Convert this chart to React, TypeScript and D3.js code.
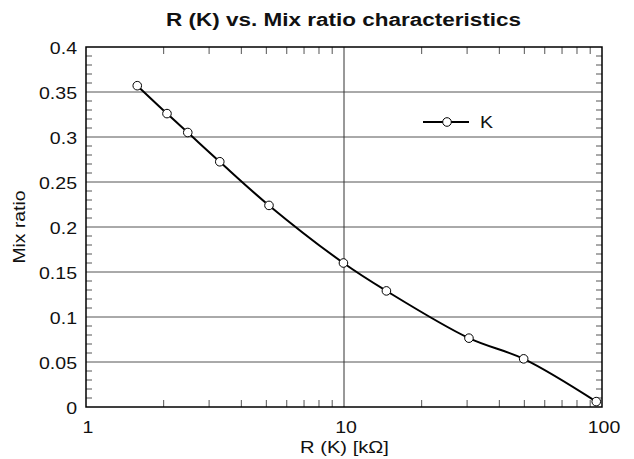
import React, { useEffect, useRef } from "react";
import * as d3 from "d3";

const resistance = [1.58, 2.06, 2.48, 3.3, 5.12, 9.95, 14.6, 30.5, 49.7, 95];
const mixRatio = [0.357, 0.326, 0.305, 0.2725, 0.224, 0.16, 0.129, 0.0765, 0.0535, 0.006];
const xTicks = [1, 10, 100];
const yTicks = [0, 0.05, 0.1, 0.15, 0.2, 0.25, 0.3, 0.35, 0.4];
const seriesName = "K";

const W = 634;
const H = 459;
const margin = { top: 47, right: 32, bottom: 52, left: 86 };
const font = "'Liberation Sans', Arial, sans-serif";
// the source renders text a bit wider than Arial
const stretch = 1.15;

export default function App() {
  const ref = useRef<SVGSVGElement>(null);

  useEffect(() => {
    const svg = d3.select(ref.current);
    svg.selectAll("*").remove();

    const x = d3.scaleLog().domain([1, 100]).range([margin.left, W - margin.right]);
    const y = d3.scaleLinear().domain([0, 0.4]).range([H - margin.bottom, margin.top]);
    const [x0, x1] = x.range();
    const [yb, yt] = y.range();

    svg.append("rect").attr("width", W).attr("height", H).attr("fill", "#fff");

    // horizontal grid lines
    svg.append("g")
      .selectAll("line")
      .data(yTicks.slice(1, -1))
      .join("line")
      .attr("x1", x0).attr("x2", x1)
      .attr("y1", d => y(d)).attr("y2", d => y(d))
      .attr("stroke", "#555").attr("stroke-width", 1);

    // vertical grid line at 10
    svg.append("line")
      .attr("x1", x(10)).attr("x2", x(10))
      .attr("y1", yt).attr("y2", yb)
      .attr("stroke", "#333").attr("stroke-width", 1);

    // minor y ticks
    const yMinor = d3.range(0, 41).map(i => i / 100).filter(v => Math.round(v * 100) % 5 !== 0);
    const minorG = svg.append("g").attr("stroke", "#555").attr("stroke-width", 1);
    yMinor.forEach(v => {
      minorG.append("line").attr("x1", x0).attr("x2", x0 + 6).attr("y1", y(v)).attr("y2", y(v));
      minorG.append("line").attr("x1", x1 - 6).attr("x2", x1).attr("y1", y(v)).attr("y2", y(v));
    });

    // minor x ticks
    const xMinor: number[] = [];
    [1, 10].forEach(dec => d3.range(2, 10).forEach(k => xMinor.push(dec * k)));
    xMinor.forEach(v => {
      minorG.append("line").attr("x1", x(v)).attr("x2", x(v)).attr("y1", yb).attr("y2", yb - 7);
      minorG.append("line").attr("x1", x(v)).attr("x2", x(v)).attr("y1", yt).attr("y2", yt + 7);
    });

    // frame
    svg.append("rect")
      .attr("x", x0).attr("y", yt)
      .attr("width", x1 - x0).attr("height", yb - yt)
      .attr("fill", "none").attr("stroke", "#000").attr("stroke-width", 1.5);

    // y tick labels
    svg.append("g")
      .selectAll("text")
      .data(yTicks)
      .join("text")
      .attr("transform", d => `translate(${x0 - 9},${y(d) + 7}) scale(${stretch},1)`)
      .attr("text-anchor", "end")
      .attr("font-family", font)
      .attr("font-size", 17)
      .attr("fill", "#111")
      .text(d => String(d));

    // x tick labels
    svg.append("g")
      .selectAll("text")
      .data(xTicks)
      .join("text")
      .attr("transform", d => `translate(${x(d) + 2},${yb + 26}) scale(${stretch},1)`)
      .attr("text-anchor", "middle")
      .attr("font-family", font)
      .attr("font-size", 17)
      .attr("fill", "#111")
      .text(d => String(d));

    // curve
    const pts: [number, number][] = resistance.map((r, i) => [x(r), y(mixRatio[i])]);
    svg.append("path")
      .attr("d", d3.line().curve(d3.curveCatmullRom.alpha(0.5))(pts))
      .attr("fill", "none")
      .attr("stroke", "#000")
      .attr("stroke-width", 2);

    svg.append("g")
      .selectAll("circle")
      .data(pts)
      .join("circle")
      .attr("cx", d => d[0]).attr("cy", d => d[1])
      .attr("r", 4.3)
      .attr("fill", "#fff").attr("stroke", "#000").attr("stroke-width", 1);

    // legend
    const lg = svg.append("g").attr("transform", "translate(423,122)");
    lg.append("line").attr("x1", 0).attr("x2", 46).attr("stroke", "#000").attr("stroke-width", 2);
    lg.append("circle").attr("cx", 24).attr("r", 4.3).attr("fill", "#fff").attr("stroke", "#000");
    lg.append("text")
      .attr("transform", `translate(57,6) scale(${stretch},1)`)
      .attr("font-family", font).attr("font-size", 17).attr("fill", "#111")
      .text(seriesName);

    // title
    svg.append("text")
      .attr("transform", "translate(343.5,26) scale(1.25,1)")
      .attr("text-anchor", "middle")
      .attr("font-family", font).attr("font-size", 18).attr("font-weight", "bold")
      .attr("fill", "#111")
      .text("R (K) vs. Mix ratio characteristics");

    // axis titles
    svg.append("text")
      .attr("transform", "translate(344.5,452.5) scale(1.26,1)")
      .attr("text-anchor", "middle")
      .attr("font-family", font).attr("font-size", 16).attr("fill", "#111")
      .text("R (K) [kΩ]");

    svg.append("text")
      .attr("transform", `translate(25,${(yt + yb) / 2}) rotate(-90) scale(1.21,1)`)
      .attr("text-anchor", "middle")
      .attr("font-family", font).attr("font-size", 16).attr("fill", "#111")
      .text("Mix ratio");
  }, []);

  return (
    <svg ref={ref} width={W} height={H} style={{ position: "absolute", left: 0, top: 0 }} />
  );
}
